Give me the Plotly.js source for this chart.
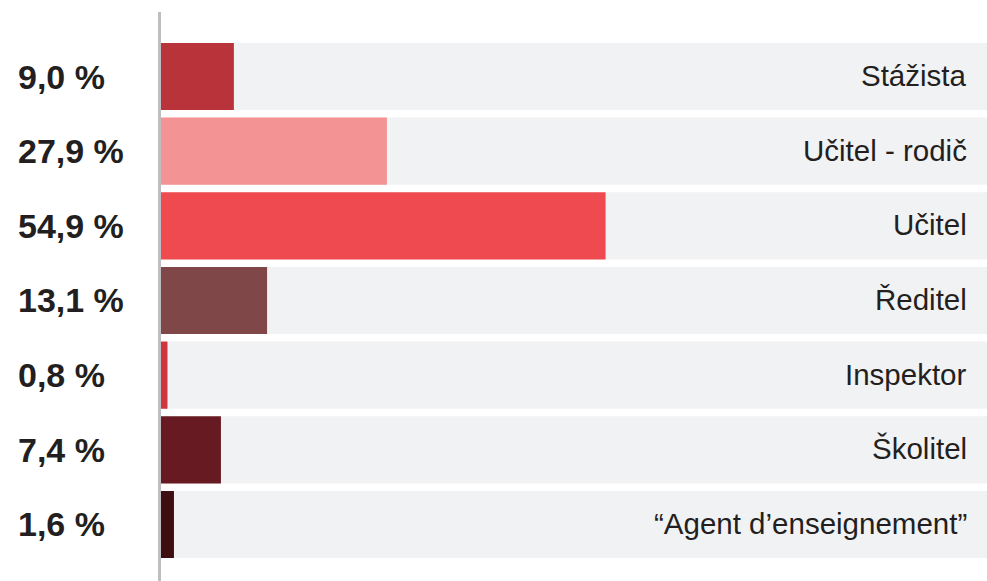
<!DOCTYPE html>
<html>
<head>
<meta charset="utf-8">
<script src="https://cdn.plot.ly/plotly-3.0.1.min.js"></script>
<style>html,body{margin:0;padding:0;background:#fff;}#chart{width:987px;height:581px;}</style>
</head>
<body>
<div id="chart"></div>
<script>
const categories = ["Stážista", "Učitel - rodič", "Učitel", "Ředitel", "Inspektor", "Školitel", "“Agent d’enseignement”"];
const values = [9.0, 27.9, 54.9, 13.1, 0.8, 7.4, 1.6];
const colors = ["#b9333a", "#f49394", "#ef4a4f", "#7f4748", "#d0343e", "#671a21", "#3f0e11"];

const fmt = v => v.toFixed(1).replace('.', ',') + ' %';

const shapes = categories.map((c, i) => ({
  type: 'rect', xref: 'paper', yref: 'y', layer: 'below',
  x0: 0, x1: 1, y0: i - 0.45, y1: i + 0.45,
  fillcolor: '#f1f2f4', line: {width: 0}
}));

const annotations = [];
categories.forEach((c, i) => {
  annotations.push({
    xref: 'paper', yref: 'y', x: -0.1755, y: i, xanchor: 'left', yanchor: 'middle',
    text: '<b>' + fmt(values[i]) + '</b>', showarrow: false,
    font: {family: 'Liberation Sans, Arial, sans-serif', size: 34, color: '#231f20'}
  });
  annotations.push({
    xref: 'paper', yref: 'y', x: 0.978, y: i, xanchor: 'right', yanchor: 'middle',
    text: c, showarrow: false, yshift: 1,
    font: {family: 'Liberation Sans, Arial, sans-serif', size: 29.5, color: '#231f20'}
  });
});

const trace = {
  type: 'bar', orientation: 'h',
  x: values, y: categories.map((c, i) => i),
  width: 0.9,
  marker: {color: colors, line: {width: 0}},
  hoverinfo: 'none'
};

const layout = {
  width: 987, height: 581,
  margin: {l: 161, r: 0, t: 12, b: 0},
  paper_bgcolor: '#ffffff', plot_bgcolor: '#ffffff',
  showlegend: false,
  xaxis: {range: [0, 102], showgrid: false, zeroline: false, showticklabels: false, fixedrange: true},
  yaxis: {range: [6.757, -0.864], showgrid: false, zeroline: false, showticklabels: false,
          showline: true, linecolor: '#bdbdc2', linewidth: 3, fixedrange: true},
  shapes: shapes,
  annotations: annotations
};

Plotly.newPlot('chart', [trace], layout, {displayModeBar: false, staticPlot: true});
</script>
</body>
</html>
